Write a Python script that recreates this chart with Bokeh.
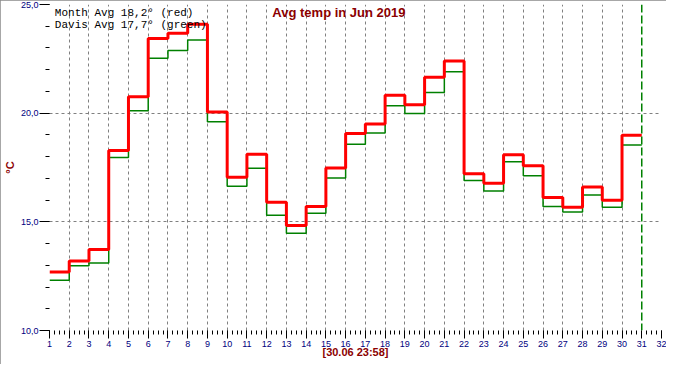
from bokeh.plotting import figure
from bokeh.models import (Range1d, SingleIntervalTicker, FixedTicker, Span, Label,
                          CustomJSTickFormatter, ColumnDataSource)
from bokeh.embed import file_html
from bokeh.resources import INLINE

days = list(range(1, 31))
month_avg = [12.69, 13.20, 13.73, 18.28, 20.75, 23.43, 23.68, 24.09, 20.05, 17.05,
             18.11, 15.90, 14.83, 15.71, 17.48, 19.06, 19.50, 20.83, 20.39, 21.65,
             22.40, 17.21, 16.77, 18.09, 17.58, 16.12, 15.67, 16.60, 15.99, 18.98]
davis_avg = [12.31, 12.98, 13.11, 17.96, 20.11, 22.53, 22.88, 23.37, 19.61, 16.64,
             17.46, 15.30, 14.47, 15.39, 17.02, 18.57, 19.09, 20.34, 19.98, 20.95,
             21.91, 16.90, 16.42, 17.76, 17.12, 15.70, 15.45, 16.23, 15.67, 18.53]
current_day = 31
title_text = "Avg temp in Jun 2019"
legend_month = "Month Avg 18,2\u00b0 (red)"
legend_davis = "Davis Avg 17,7\u00b0 (green)"
stamp_text = "[30.06 23:58]"
y_label = "\u00b0C"

# step series: each day's value spans [day, day+1)
step_x = days + [days[-1] + 1]
red_y = month_avg + [month_avg[-1]]
green_y = davis_avg + [davis_avg[-1]]
src = ColumnDataSource(dict(x=step_x, red=red_y, green=green_y))

p = figure(width=666, height=364, output_backend="svg", toolbar_location=None,
           x_range=Range1d(1, 32), y_range=Range1d(10, 25),
           min_border_left=39, min_border_right=5, min_border_top=4, min_border_bottom=34)
p.outline_line_color = None
p.background_fill_color = "white"
p.border_fill_color = "white"
p.styles = {"outline": "2px solid #8a8a8a", "outline-offset": "-2px"}

# axes
p.xaxis.ticker = SingleIntervalTicker(interval=1, num_minor_ticks=4)
p.yaxis.ticker = SingleIntervalTicker(interval=5, num_minor_ticks=5)
p.yaxis.formatter = CustomJSTickFormatter(code="return tick.toFixed(1).replace('.', ',');")
for ax in (p.xaxis[0], p.yaxis[0]):
    ax.axis_line_color = None
    ax.major_tick_line_color = "black"
    ax.minor_tick_line_color = "black"
    ax.major_tick_in = 0
    ax.minor_tick_in = 0
    ax.major_label_text_color = "#000080"
    ax.major_label_text_font = "Liberation Sans"
    ax.major_label_text_font_size = "9px"
    ax.axis_label_text_color = "#8b0000"
    ax.axis_label_text_font = "Liberation Sans"
    ax.axis_label_text_font_style = "bold"
p.yaxis.major_tick_out = 10
p.yaxis.minor_tick_out = 4
p.yaxis.major_label_standoff = 1
p.yaxis.axis_label = y_label
p.yaxis.axis_label_text_font_size = "11px"
p.yaxis.axis_label_standoff = 2
p.xaxis.major_tick_out = 8
p.xaxis.minor_tick_out = 4
p.xaxis.major_label_standoff = 2
p.xaxis.axis_label = stamp_text
p.xaxis.axis_label_text_font_size = "11px"
p.xaxis.axis_label_standoff = -4

# grids
p.xgrid.ticker = FixedTicker(ticks=list(range(2, 31)))
p.ygrid.ticker = FixedTicker(ticks=[15, 20])
for g in (p.xgrid[0], p.ygrid[0]):
    g.grid_line_color = "#808080"
    g.grid_line_dash = "3 3"
    g.grid_line_width = 1

# current day marker
p.add_layout(Span(location=current_day, dimension="height", line_color="#008000",
                  line_dash="8 3", line_width=1.5))

# series
p.step("x", "green", source=src, mode="after", line_color="#008000", line_width=1.5)
p.step("x", "red", source=src, mode="after", line_color="#ff0000", line_width=3)

# texts
p.add_layout(Label(x=15.66, y=24.62, text=title_text, text_align="center",
                   text_baseline="middle", text_color="#8b0000", text_font="Liberation Sans",
                   text_font_style="bold", text_font_size="13px"))
p.add_layout(Label(x=1.27, y=24.60, text=legend_month, text_align="left",
                   text_baseline="middle", text_color="black", text_font="Liberation Mono",
                   text_font_size="11px"))
p.add_layout(Label(x=1.27, y=24.04, text=legend_davis, text_align="left",
                   text_baseline="middle", text_color="black", text_font="Liberation Mono",
                   text_font_size="11px"))

open("out.html", "w").write(file_html(p, INLINE))
